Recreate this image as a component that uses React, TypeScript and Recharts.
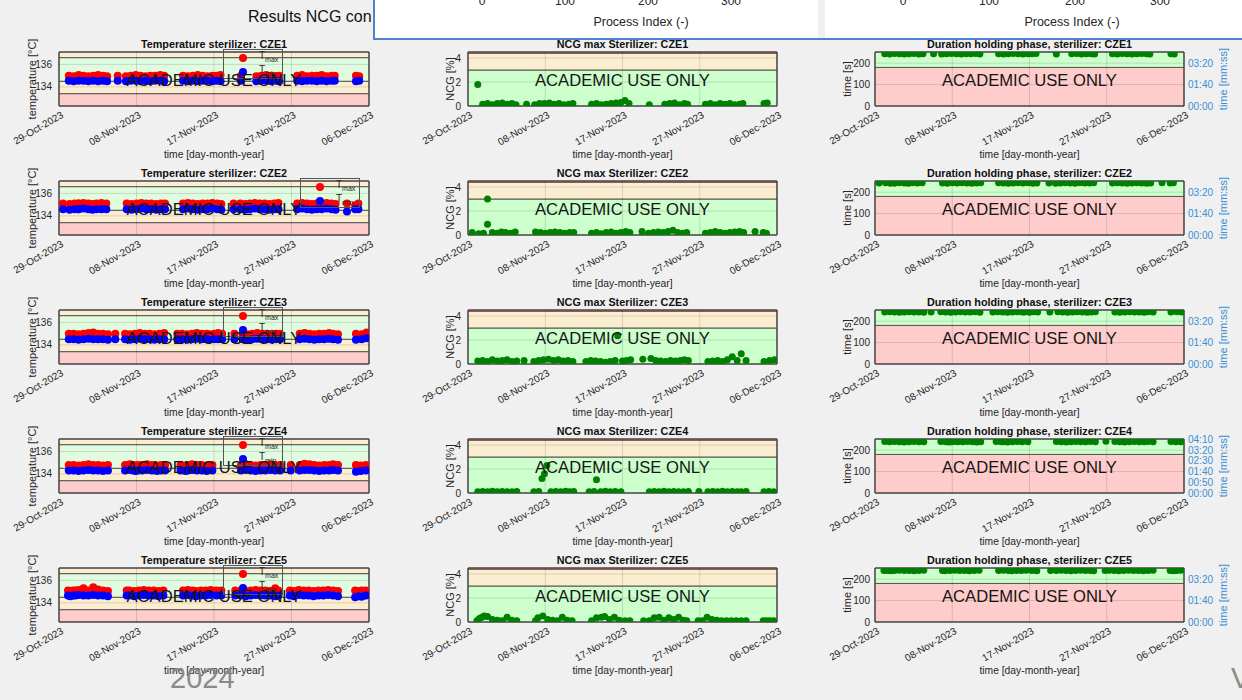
import React from "react";
import {
  ScatterChart,
  Scatter,
  XAxis,
  YAxis,
  ReferenceArea,
  ReferenceLine,
  Legend,
} from "recharts";

// ---- data (days counted from 29-Oct-2023 00:00) ----
const STERILIZERS = ["CZE1", "CZE2", "CZE3", "CZE4", "CZE5"];
const DATE_TICKS = [0, 9.5, 19, 28.5, 38];
const DATE_LABELS = ["29-Oct-2023", "08-Nov-2023", "17-Nov-2023", "27-Nov-2023", "06-Dec-2023"];

const DAYS_CZE1 = [1.2, 1.8, 2.4, 3.0, 3.6, 4.2, 4.8, 5.4, 5.9, 7.2, 8.2, 8.8, 9.4, 10.0, 10.6, 11.2, 11.8, 12.4, 12.9, 15.2, 15.8, 16.4, 17.0, 17.6, 18.2, 18.8, 19.3, 19.8, 22.3, 24.2, 24.8, 25.4, 26.0, 26.6, 27.0, 29.2, 29.8, 30.4, 31.0, 31.6, 32.2, 32.8, 33.4, 33.8, 36.4, 36.8];
const TMAX_CZE1 = [135.0, 134.95, 135.05, 135.0, 134.95, 135.0, 135.05, 135.0, 134.95, 135.0, 134.95, 135.0, 135.05, 135.0, 134.95, 135.0, 135.0, 135.05, 135.0, 135.0, 134.95, 135.0, 135.05, 135.0, 134.95, 135.0, 135.0, 135.05, 135.0, 134.95, 135.0, 135.05, 135.0, 134.95, 135.0, 135.0, 135.05, 134.95, 135.0, 135.0, 135.05, 134.95, 135.0, 135.0, 135.0, 134.95];
const TMIN_CZE1 = [134.55, 134.5, 134.55, 134.55, 134.5, 134.55, 134.5, 134.55, 134.5, 134.55, 134.5, 134.55, 134.55, 134.5, 134.55, 134.5, 134.55, 134.55, 134.5, 134.55, 134.5, 134.55, 134.5, 134.55, 134.55, 134.5, 134.55, 134.5, 134.55, 134.5, 134.55, 134.55, 134.5, 134.55, 134.5, 134.55, 134.5, 134.55, 134.55, 134.5, 134.55, 134.5, 134.55, 134.55, 134.5, 134.55];
const NCG_CZE1 = [1.8, 0.15, 0.2, 0.1, 0.2, 0.25, 0.15, 0.2, 0.1, 0.15, 0.1, 0.2, 0.2, 0.25, 0.15, 0.2, 0.1, 0.15, 0.2, 0.15, 0.2, 0.1, 0.15, 0.2, 0.25, 0.3, 0.45, 0.2, 0.1, 0.15, 0.2, 0.25, 0.1, 0.2, 0.15, 0.15, 0.2, 0.1, 0.2, 0.15, 0.2, 0.1, 0.15, 0.2, 0.2, 0.25];
const HOLD_CZE1 = [244, 243, 245, 244, 243, 244, 245, 243, 244, 244, 243, 244, 245, 244, 243, 244, 244, 245, 243, 244, 243, 244, 245, 244, 243, 244, 244, 245, 243, 244, 245, 243, 244, 244, 243, 244, 243, 245, 244, 243, 244, 245, 244, 243, 244, 243];

const DAYS_CZE2 = [0.5, 1.3, 1.9, 2.4, 2.4, 3.0, 3.6, 4.1, 4.6, 5.2, 5.8, 8.3, 8.9, 9.5, 10.1, 10.7, 11.3, 11.9, 12.5, 13.0, 15.2, 15.8, 16.4, 17.0, 17.6, 18.2, 18.8, 19.4, 19.9, 21.4, 22.2, 22.8, 23.4, 24.0, 24.6, 25.2, 25.8, 26.4, 26.9, 29.2, 29.8, 30.4, 31.0, 31.6, 32.2, 32.8, 33.4, 33.9, 35.3, 36.3, 36.7];
const TMAX_CZE2 = [135.1, 135.05, 135.1, 135.1, 135.1, 135.15, 135.1, 135.05, 135.1, 135.15, 135.1, 135.1, 135.05, 135.1, 135.15, 135.1, 135.1, 135.05, 135.1, 135.1, 135.1, 135.15, 135.1, 135.05, 135.1, 135.1, 135.15, 135.1, 135.05, 135.1, 135.1, 135.05, 135.1, 135.15, 135.1, 135.1, 135.05, 135.1, 135.15, 135.1, 135.15, 135.1, 135.05, 135.1, 135.1, 135.15, 135.1, 135.05, 135.1, 134.95, 135.1];
const TMIN_CZE2 = [134.6, 134.55, 134.6, 134.6, 134.6, 134.65, 134.6, 134.55, 134.6, 134.6, 134.6, 134.6, 134.55, 134.6, 134.65, 134.6, 134.6, 134.55, 134.6, 134.6, 134.6, 134.65, 134.6, 134.55, 134.6, 134.6, 134.65, 134.6, 134.55, 134.6, 134.6, 134.55, 134.6, 134.65, 134.6, 134.6, 134.55, 134.6, 134.6, 134.6, 134.65, 134.6, 134.55, 134.6, 134.6, 134.65, 134.6, 134.55, 134.4, 134.6, 134.6];
const NCG_CZE2 = [0.2, 0.1, 0.15, 3.0, 0.9, 0.2, 0.15, 0.25, 0.2, 0.15, 0.25, 0.25, 0.2, 0.15, 0.2, 0.25, 0.2, 0.15, 0.2, 0.2, 0.15, 0.2, 0.1, 0.2, 0.25, 0.15, 0.2, 0.3, 0.2, 0.3, 0.15, 0.2, 0.25, 0.2, 0.3, 0.4, 0.2, 0.15, 0.2, 0.15, 0.2, 0.3, 0.2, 0.15, 0.2, 0.25, 0.3, 0.2, 0.3, 0.2, 0.15];
const HOLD_CZE2 = [243, 244, 242, 243, 243, 244, 243, 242, 244, 243, 244, 243, 242, 244, 243, 244, 243, 242, 243, 244, 244, 243, 242, 243, 244, 243, 244, 242, 243, 243, 242, 243, 244, 243, 242, 244, 243, 243, 244, 243, 244, 243, 242, 243, 244, 243, 242, 243, 244, 243, 244];

const DAYS_CZE3 = [1.2, 1.8, 2.4, 3.0, 3.6, 4.2, 4.8, 5.4, 6.0, 6.9, 8.1, 8.7, 9.3, 9.9, 10.5, 11.1, 11.7, 12.3, 12.9, 14.5, 15.1, 15.7, 16.3, 16.9, 17.5, 18.1, 18.4, 19.0, 19.5, 20.0, 21.5, 22.5, 23.1, 23.7, 24.3, 24.9, 25.5, 26.1, 26.6, 27.1, 29.5, 30.1, 30.7, 31.3, 31.9, 32.5, 33.1, 33.6, 34.2, 36.4, 37.1, 37.7];
const TMAX_CZE3 = [135.0, 135.0, 134.95, 135.0, 135.05, 135.1, 135.0, 135.0, 134.95, 135.0, 135.0, 134.95, 135.0, 135.05, 135.0, 135.0, 134.95, 135.0, 135.05, 135.0, 135.0, 134.95, 135.0, 135.05, 135.0, 135.0, 134.95, 135.0, 135.05, 135.0, 135.0, 135.0, 134.95, 135.0, 135.05, 135.0, 135.0, 134.95, 135.0, 135.0, 135.0, 135.05, 135.0, 134.95, 135.0, 135.0, 135.05, 135.0, 134.95, 135.0, 134.95, 135.1];
const TMIN_CZE3 = [134.5, 134.5, 134.45, 134.5, 134.55, 134.5, 134.5, 134.5, 134.45, 134.5, 134.5, 134.45, 134.5, 134.55, 134.5, 134.5, 134.45, 134.5, 134.5, 134.5, 134.5, 134.45, 134.5, 134.55, 134.5, 134.5, 134.45, 134.5, 134.5, 134.5, 134.5, 134.5, 134.45, 134.5, 134.55, 134.5, 134.5, 134.45, 134.5, 134.5, 134.5, 134.55, 134.5, 134.45, 134.5, 134.5, 134.55, 134.5, 134.45, 134.45, 134.5, 134.6];
const NCG_CZE3 = [0.25, 0.3, 0.2, 0.35, 0.25, 0.3, 0.35, 0.2, 0.25, 0.3, 0.2, 0.3, 0.35, 0.4, 0.3, 0.35, 0.25, 0.3, 0.2, 0.2, 0.3, 0.25, 0.2, 0.15, 0.2, 0.3, 2.35, 0.25, 0.3, 0.35, 0.4, 0.45, 0.3, 0.25, 0.2, 0.3, 0.25, 0.3, 0.35, 0.3, 0.2, 0.25, 0.3, 0.2, 0.35, 0.6, 0.3, 0.85, 0.3, 0.2, 0.3, 0.35];
const HOLD_CZE3 = [243, 244, 243, 242, 243, 244, 243, 243, 242, 243, 244, 243, 242, 243, 244, 243, 243, 244, 242, 243, 244, 243, 242, 243, 244, 243, 243, 242, 244, 243, 243, 244, 243, 242, 243, 244, 243, 242, 243, 244, 243, 242, 243, 244, 243, 243, 242, 244, 243, 243, 244, 243];

const DAYS_CZE4 = [1.2, 1.8, 2.4, 3.0, 3.6, 4.2, 4.8, 5.4, 6.0, 8.1, 8.7, 9.1, 9.4, 9.7, 10.2, 10.8, 11.4, 12.0, 12.5, 13.0, 14.9, 15.5, 15.8, 16.3, 16.9, 17.5, 18.1, 18.8, 22.3, 22.9, 23.5, 24.1, 24.7, 25.3, 25.9, 26.5, 27.1, 28.4, 29.5, 30.1, 30.7, 31.3, 31.9, 32.5, 33.1, 33.6, 34.2, 36.4, 37.0, 37.6];
const TMAX_CZE4 = [134.8, 134.8, 134.75, 134.8, 134.85, 134.8, 134.8, 134.75, 134.8, 134.8, 134.85, 134.8, 134.75, 134.8, 134.8, 134.85, 134.8, 134.75, 134.8, 134.8, 134.8, 134.75, 134.8, 134.85, 134.8, 134.8, 134.75, 134.8, 134.8, 134.85, 134.8, 134.75, 134.8, 134.8, 134.85, 134.8, 134.8, 134.8, 134.8, 134.9, 134.85, 134.8, 134.75, 134.8, 134.8, 134.85, 134.8, 134.8, 134.75, 134.8];
const TMIN_CZE4 = [134.3, 134.3, 134.25, 134.3, 134.35, 134.3, 134.3, 134.25, 134.3, 134.3, 134.35, 134.3, 134.25, 134.3, 134.3, 134.35, 134.3, 134.25, 134.3, 134.3, 134.3, 134.25, 134.3, 134.35, 134.3, 134.3, 134.25, 134.3, 134.3, 134.35, 134.3, 134.25, 134.3, 134.3, 134.35, 134.3, 134.3, 134.3, 134.3, 134.35, 134.35, 134.3, 134.25, 134.3, 134.3, 134.35, 134.3, 134.2, 134.25, 134.3];
const NCG_CZE4 = [0.1, 0.12, 0.1, 0.15, 0.1, 0.12, 0.1, 0.1, 0.12, 0.1, 0.12, 1.2, 1.6, 2.3, 0.1, 0.12, 0.1, 0.15, 0.1, 0.12, 0.1, 0.12, 1.1, 0.1, 0.15, 0.1, 0.12, 0.1, 0.1, 0.12, 0.1, 0.15, 0.1, 0.12, 0.1, 0.1, 0.12, 0.12, 0.1, 0.12, 0.1, 0.15, 0.1, 0.12, 0.1, 0.1, 0.12, 0.1, 0.12, 0.1];
const HOLD_CZE4 = [240, 239, 240, 239, 238, 239, 240, 239, 239, 240, 239, 238, 239, 240, 239, 239, 240, 239, 238, 239, 240, 239, 239, 238, 239, 240, 239, 239, 240, 239, 238, 239, 240, 239, 239, 240, 239, 241, 240, 239, 238, 239, 240, 239, 239, 240, 239, 240, 239, 239];

const DAYS_CZE5 = [1.1, 1.4, 1.7, 2.0, 2.4, 3.0, 3.6, 4.2, 4.8, 5.4, 6.0, 8.3, 8.6, 9.2, 9.8, 10.4, 11.0, 11.6, 12.2, 12.8, 15.2, 15.8, 16.4, 16.8, 17.4, 18.0, 18.6, 19.3, 19.9, 21.6, 22.3, 22.9, 23.5, 24.1, 24.7, 25.3, 25.9, 26.5, 26.9, 28.3, 28.8, 29.4, 30.0, 30.6, 31.2, 31.8, 32.4, 33.0, 33.6, 34.2, 36.3, 36.7, 37.1, 37.6];
const TMAX_CZE5 = [135.1, 135.05, 135.1, 135.1, 135.15, 135.3, 135.1, 135.4, 135.2, 135.1, 135.05, 135.1, 135.1, 135.05, 135.1, 135.15, 135.1, 135.1, 135.05, 135.1, 135.1, 135.15, 135.1, 135.05, 135.1, 135.1, 135.15, 135.1, 135.1, 135.1, 135.1, 135.05, 135.1, 135.15, 135.1, 135.1, 135.05, 135.3, 135.1, 135.1, 135.05, 135.15, 135.1, 135.1, 135.05, 135.1, 135.1, 135.15, 135.1, 135.05, 135.1, 135.05, 135.1, 135.1];
const TMIN_CZE5 = [134.65, 134.6, 134.65, 134.65, 134.7, 134.65, 134.65, 134.7, 134.65, 134.65, 134.6, 134.65, 134.65, 134.6, 134.65, 134.7, 134.65, 134.65, 134.6, 134.65, 134.65, 134.7, 134.65, 134.6, 134.65, 134.65, 134.7, 134.65, 134.65, 134.65, 134.65, 134.6, 134.65, 134.7, 134.65, 134.65, 134.65, 134.6, 134.65, 134.65, 134.6, 134.7, 134.65, 134.65, 134.6, 134.65, 134.65, 134.7, 134.65, 134.6, 134.5, 134.6, 134.55, 134.65];
const NCG_CZE5 = [0.1, 0.3, 0.4, 0.5, 0.45, 0.2, 0.15, 0.1, 0.4, 0.15, 0.1, 0.1, 0.35, 0.5, 0.2, 0.15, 0.1, 0.4, 0.15, 0.1, 0.1, 0.35, 0.4, 0.45, 0.2, 0.4, 0.15, 0.1, 0.1, 0.1, 0.1, 0.35, 0.4, 0.15, 0.35, 0.2, 0.4, 0.15, 0.1, 0.1, 0.1, 0.4, 0.2, 0.15, 0.1, 0.1, 0.1, 0.1, 0.1, 0.1, 0.1, 0.1, 0.1, 0.1];
const HOLD_CZE5 = [240, 241, 240, 239, 240, 241, 240, 240, 239, 240, 241, 240, 239, 240, 241, 240, 240, 239, 240, 241, 240, 241, 240, 239, 240, 240, 241, 240, 239, 240, 240, 241, 240, 239, 240, 241, 240, 240, 239, 240, 241, 240, 239, 240, 241, 240, 240, 239, 240, 241, 240, 239, 240, 241];

const DAYS = [DAYS_CZE1, DAYS_CZE2, DAYS_CZE3, DAYS_CZE4, DAYS_CZE5];
const TMAX = [TMAX_CZE1, TMAX_CZE2, TMAX_CZE3, TMAX_CZE4, TMAX_CZE5];
const TMIN = [TMIN_CZE1, TMIN_CZE2, TMIN_CZE3, TMIN_CZE4, TMIN_CZE5];
const NCG = [NCG_CZE1, NCG_CZE2, NCG_CZE3, NCG_CZE4, NCG_CZE5];
const HOLD = [HOLD_CZE1, HOLD_CZE2, HOLD_CZE3, HOLD_CZE4, HOLD_CZE5];

// limits
const TEMP_DOMAIN = [132.3, 137.1];
const TEMP_TICKS = [134, 136];
const TEMP_LIMITS = [133.4, 134.5, 136.6];
const NCG_DOMAIN = [0, 4.5];
const NCG_TICKS = [0, 2, 4];
const NCG_LIMITS = [3, 4.4];
const HOLD_DOMAIN = [0, 252];
const HOLD_TICKS = [0, 100, 200];
const HOLD_LIMIT = 180;
const HOLD_RIGHT_TICKS = [[0, 100, 200], [0, 100, 200], [0, 100, 200], [0, 50, 100, 150, 200, 250], [0, 100, 200]];

// ---- layout / style ----
const FONT = '"Liberation Sans", Arial, Helvetica, sans-serif';
const INK = "#262626";
const BLUE_AX = "#3a8fd4";
const RED = "#ffcccc";
const ORANGE = "#fbeed0";
const GREEN = "#ccffcc";
const GREEN_PALE = "#e0fbe0";
const EDGE = "#555555";
const AXIS_W = 40;
const AXIS_R = 45;
const XAXIS_H = 50;
const PLOT_H = 54;
const COL_X = [59, 468, 875];
const COL_W = [310, 309, 309];
const ROW_Y = [52, 181, 310, 439, 568];
const LEGEND_X = [223, 300, 223, 223, 223];

const toPoints = (days: number[], vals: number[]) => days.map((d, i) => ({ day: d, v: vals[i] }));
const mmss = (s: number) =>
  `${String(Math.floor(s / 60)).padStart(2, "0")}:${String(Math.round(s % 60)).padStart(2, "0")}`;

const DateTick = (props: any) => {
  const { x, y, payload } = props;
  const i = DATE_TICKS.indexOf(payload.value);
  return (
    <g transform={`translate(${x},${y})`}>
      <text x={-1} y={12} textAnchor="end" transform="rotate(-30)" fontSize={10} fill={INK} fontFamily={FONT}>
        {DATE_LABELS[i]}
      </text>
    </g>
  );
};

const dot = (color: string, r: number) => (p: any) => <circle cx={p.cx} cy={p.cy} r={r} fill={color} />;

const TempLegend = () => (
  <div
    style={{
      width: 60,
      height: 30,
      border: "1px solid #555",
      boxSizing: "border-box",
      position: "relative",
      fontFamily: FONT,
      color: INK,
    }}
  >
    <span style={{ position: "absolute", left: 15, top: 4, width: 8, height: 8, borderRadius: 4, background: "#ff0000" }} />
    <span style={{ position: "absolute", left: 35, top: 1, fontSize: 10, lineHeight: "10px" }}>
      T<span style={{ fontSize: 7, position: "relative", top: 3 }}>max</span>
    </span>
    <span style={{ position: "absolute", left: 15, top: 18, width: 8, height: 8, borderRadius: 4, background: "#0000ff" }} />
    <span style={{ position: "absolute", left: 35, top: 15, fontSize: 10, lineHeight: "10px" }}>
      T<span style={{ fontSize: 7, position: "relative", top: 3 }}>min</span>
    </span>
  </div>
);

const xAxisProps = {
  type: "number" as const,
  dataKey: "day",
  domain: [0, 38],
  ticks: DATE_TICKS,
  tick: <DateTick />,
  interval: 0 as const,
  tickLine: false,
  axisLine: false,
  tickSize: 0,
  tickMargin: 0,
  height: XAXIS_H,
  allowDataOverflow: true,
};

const yTick = { fontSize: 10, fill: INK, fontFamily: FONT };

function gridLines(yTicks: number[], domain: number[], yAxisId?: string) {
  const ys = yTicks.filter((t) => t > domain[0] && t < domain[1]);
  return [
    ...DATE_TICKS.slice(1, -1).map((t) => (
      <ReferenceLine key={"gx" + t} x={t} yAxisId={yAxisId} stroke="#000" strokeOpacity={0.13} />
    )),
    ...ys.map((t) => <ReferenceLine key={"gy" + t} y={t} yAxisId={yAxisId} stroke="#000" strokeOpacity={0.13} />),
  ];
}

function TempChart({ row }: { row: number }) {
  const w = COL_W[0];
  const [lo, hi] = TEMP_DOMAIN;
  const [l1, l2, l3] = TEMP_LIMITS;
  return (
    <ScatterChart width={AXIS_W + w} height={PLOT_H + XAXIS_H} margin={{ top: 0, right: 0, bottom: 0, left: 0 }}>
      <XAxis {...xAxisProps} />
      <YAxis type="number" dataKey="v" domain={TEMP_DOMAIN} ticks={TEMP_TICKS} width={AXIS_W} tickLine={false} axisLine={false} tickSize={0} tickMargin={7} tick={yTick} allowDataOverflow />
      <ReferenceArea y1={lo} y2={l1} fill={RED} fillOpacity={1} stroke={EDGE} />
      <ReferenceArea y1={l1} y2={l2} fill={ORANGE} fillOpacity={1} stroke={EDGE} />
      <ReferenceArea y1={l2} y2={l3} fill={GREEN_PALE} fillOpacity={1} stroke={EDGE} />
      <ReferenceArea y1={l3} y2={hi} fill={ORANGE} fillOpacity={1} stroke={EDGE} />
      {gridLines(TEMP_TICKS, TEMP_DOMAIN)}
      <ReferenceArea x1={0} x2={38} y1={lo} y2={hi} fill="none" stroke="#3a3a3a" />
      <Scatter name="Tmax" data={toPoints(DAYS[row], TMAX[row])} shape={dot("#ff0000", 4)} isAnimationActive={false} />
      <Scatter name="Tmin" data={toPoints(DAYS[row], TMIN[row])} shape={dot("#0000ff", 4)} isAnimationActive={false} />
      <Legend
        content={<TempLegend />}
        layout="horizontal"
        align="center"
        verticalAlign="middle"
        wrapperStyle={{ left: LEGEND_X[row] - (COL_X[0] - AXIS_W), top: -3, width: 60, height: 30 }}
      />
    </ScatterChart>
  );
}

function NcgChart({ row }: { row: number }) {
  const w = COL_W[1];
  const [lo, hi] = NCG_DOMAIN;
  const [l1, l2] = NCG_LIMITS;
  return (
    <ScatterChart width={AXIS_W + w} height={PLOT_H + XAXIS_H} margin={{ top: 0, right: 0, bottom: 0, left: 0 }}>
      <XAxis {...xAxisProps} />
      <YAxis type="number" dataKey="v" domain={NCG_DOMAIN} ticks={NCG_TICKS} width={AXIS_W} tickLine={false} axisLine={false} tickSize={0} tickMargin={7} tick={yTick} allowDataOverflow />
      <ReferenceArea y1={lo} y2={l1} fill={GREEN} fillOpacity={1} stroke={EDGE} />
      <ReferenceArea y1={l1} y2={l2} fill={ORANGE} fillOpacity={1} stroke={EDGE} />
      <ReferenceArea y1={l2} y2={hi} fill="#d9a9a9" fillOpacity={1} stroke="#7a4a4a" />
      {gridLines(NCG_TICKS, NCG_DOMAIN)}
      <ReferenceArea x1={0} x2={38} y1={lo} y2={hi} fill="none" stroke="#3a3a3a" />
      <Scatter name="NCG" data={toPoints(DAYS[row], NCG[row])} shape={dot("#008000", 3.5)} isAnimationActive={false} />
    </ScatterChart>
  );
}

function HoldChart({ row }: { row: number }) {
  const w = COL_W[2];
  const [lo, hi] = HOLD_DOMAIN;
  return (
    <ScatterChart width={AXIS_W + w + AXIS_R} height={PLOT_H + XAXIS_H} margin={{ top: 0, right: 0, bottom: 0, left: 0 }}>
      <XAxis {...xAxisProps} />
      <YAxis yAxisId="left" type="number" dataKey="v" domain={HOLD_DOMAIN} ticks={HOLD_TICKS} width={AXIS_W} tickLine={false} axisLine={false} tickSize={0} tickMargin={5} tick={yTick} allowDataOverflow />
      <YAxis
        yAxisId="right"
        orientation="right"
        type="number"
        domain={HOLD_DOMAIN}
        ticks={HOLD_RIGHT_TICKS[row]}
        tickFormatter={mmss}
        width={AXIS_R}
        tickLine={false}
        axisLine={false}
        tickSize={0}
        tickMargin={4}
        tick={{ ...yTick, fill: BLUE_AX }}
        interval={0}
        allowDataOverflow
      />
      <ReferenceArea yAxisId="left" y1={lo} y2={HOLD_LIMIT} fill={RED} fillOpacity={1} stroke={EDGE} />
      <ReferenceArea yAxisId="left" y1={HOLD_LIMIT} y2={hi} fill={GREEN} fillOpacity={1} stroke={EDGE} />
      {gridLines(HOLD_TICKS, HOLD_DOMAIN, "left")}
      <ReferenceArea yAxisId="left" x1={0} x2={38} y1={lo} y2={hi} fill="none" stroke="#3a3a3a" />
      <Scatter yAxisId="left" name="hold" data={toPoints(DAYS[row], HOLD[row])} shape={dot("#008000", 3.5)} isAnimationActive={false} />
    </ScatterChart>
  );
}

const abs = (style: React.CSSProperties): React.CSSProperties => ({ position: "absolute", lineHeight: 1, whiteSpace: "nowrap", ...style });

function Panel({ col, row, title, yLabel, children }: { col: number; row: number; title: string; yLabel: string; children: React.ReactNode }) {
  const x = COL_X[col];
  const y = ROW_Y[row];
  const w = COL_W[col];
  const cx = x + w / 2;
  const yLabelX = [32, 450, 847][col];
  return (
    <>
      <div style={abs({ left: x - AXIS_W, top: y })}>{children}</div>
      <div style={abs({ left: cx, top: y - 13.5, transform: "translateX(-50%)", fontSize: 10.8, fontWeight: "bold", color: "#111" })}>{title}</div>
      <div style={abs({ left: cx, top: y + PLOT_H + 44, transform: "translateX(-50%)", fontSize: 10.3 })}>time [day-month-year]</div>
      <div style={abs({ left: yLabelX, top: y + PLOT_H / 2, transform: "translate(-50%,-50%) rotate(-90deg)", fontSize: 11 })}>{yLabel}</div>
      {col === 2 && (
        <div style={abs({ left: 1223, top: y + PLOT_H / 2, transform: "translate(-50%,-50%) rotate(-90deg)", fontSize: 11, color: BLUE_AX })}>
          time [mm:ss]
        </div>
      )}
      <div style={abs({ left: cx, top: y + 21, transform: "translateX(-50%)", fontSize: 16.6, color: "#151515" })}>ACADEMIC USE ONLY</div>
    </>
  );
}

const PROCESS_TICKS = ["0", "100", "200", "300"];
const PROCESS_TICK_X = [[482, 565, 648, 731], [903, 989, 1075, 1160]];

export default function App() {
  return (
    <div style={{ position: "absolute", left: 0, top: 0, width: 1242, height: 700, background: "#f0f0f0", overflow: "hidden", fontFamily: FONT, color: INK }}>
      <style>{`.recharts-surface{overflow:visible}`}</style>
      <div style={abs({ left: 248, top: 9, fontSize: 16, color: "#111" })}>Results NCG con</div>

      {STERILIZERS.map((s, row) => (
        <React.Fragment key={s}>
          <Panel col={0} row={row} title={`Temperature sterilizer: ${s}`} yLabel="temperature [°C]">
            <TempChart row={row} />
          </Panel>
          <Panel col={1} row={row} title={`NCG max Sterilizer: ${s}`} yLabel="NCG [%]">
            <NcgChart row={row} />
          </Panel>
          <Panel col={2} row={row} title={`Duration holding phase, sterilizer: ${s}`} yLabel="time [s]">
            <HoldChart row={row} />
          </Panel>
        </React.Fragment>
      ))}

      {/* window partly covering the figure */}
      <div style={{ position: "absolute", left: 373, top: -2, width: 880, height: 40, background: "#fff", borderLeft: "2px solid #4f7fcf", borderBottom: "2px solid #4f7fcf" }}>
        <div style={{ position: "absolute", left: 818 - 375, top: 0, width: 7, height: 40, background: "#f0f0f0" }} />
      </div>
      {PROCESS_TICK_X.map((xs, k) => (
        <React.Fragment key={k}>
          {xs.map((x, i) => (
            <div key={i} style={abs({ left: x, top: -5, transform: "translateX(-50%)", fontSize: 12 })}>{PROCESS_TICKS[i]}</div>
          ))}
          <div style={abs({ left: k === 0 ? 641 : 1072, top: 16, transform: "translateX(-50%)", fontSize: 12.5 })}>Process Index (-)</div>
        </React.Fragment>
      ))}

      <div style={abs({ left: 170, top: 664, fontSize: 29, color: "#8a8a8a" })}>2024</div>
      <div style={abs({ left: 1231, top: 664, fontSize: 29, color: "#8a8a8a" })}>V</div>
    </div>
  );
}
